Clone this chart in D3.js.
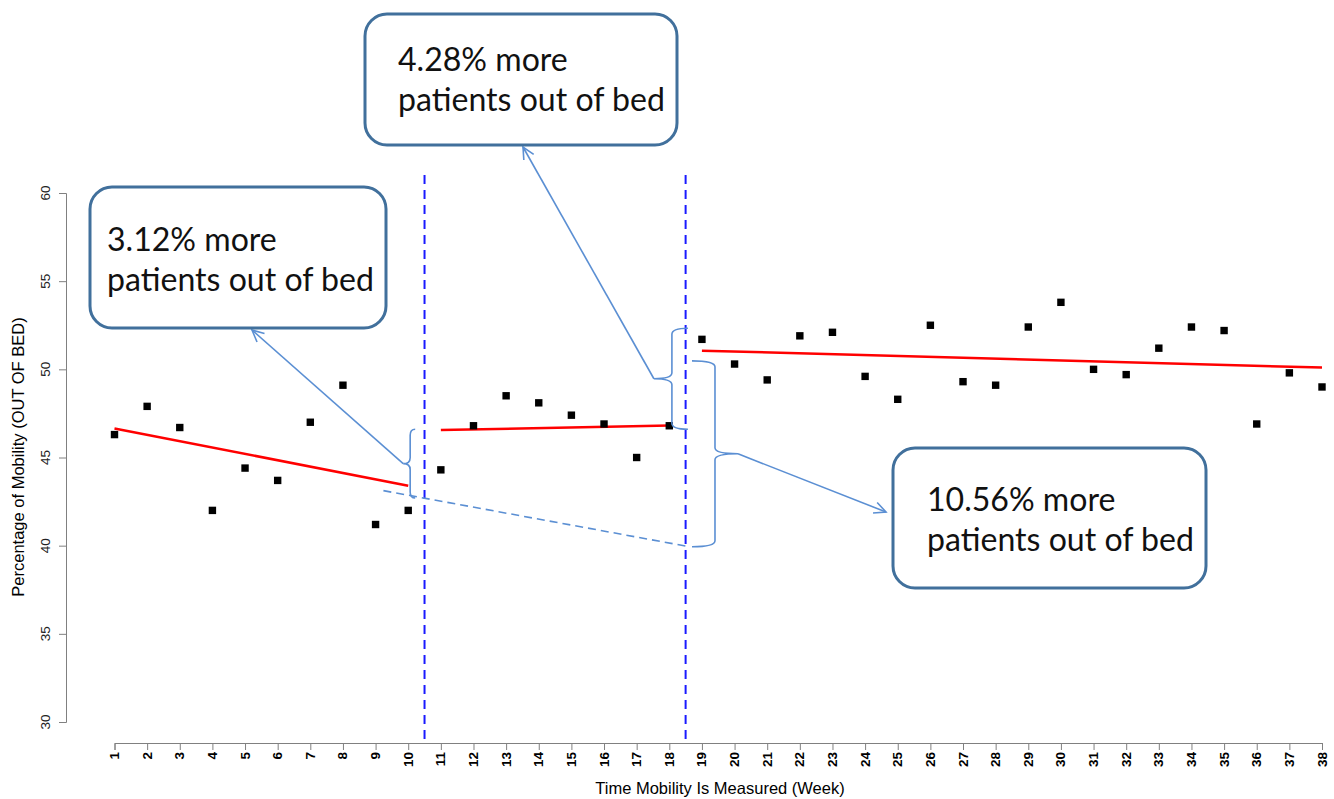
<!DOCTYPE html>
<html>
<head>
<meta charset="utf-8">
<script src="https://cdn.jsdelivr.net/npm/d3@7"></script>
<style>
  body { margin: 0; background: #fff; }
  svg { display: block; }
</style>
</head>
<body>
<svg id="chart" width="1334" height="799"></svg>
<script>
// Weekly share of patients out of bed.
const weeks = d3.range(1, 39);
const mobility = [
  46.3, 47.9, 46.7, 42.0, 44.4, 43.7, 47.0, 49.1, 41.2, 42.0,
  44.3, 46.8, 48.5, 48.1, 47.4, 46.9, 45.0, 46.8, 51.7, 50.3,
  49.4, 51.9, 52.1, 49.6, 48.3, 52.5, 49.3, 49.1, 52.4, 53.8,
  50.0, 49.7, 51.2, 52.4, 52.2, 46.9, 49.8, 49.0
];
const yTicks = [30, 35, 40, 45, 50, 55, 60];

// Fitted trend per phase: [startWeek, startValue, endWeek, endValue].
const trends = [
  [1, 46.65, 10, 43.4],
  [11, 46.56, 18, 46.81],
  [19, 51.06, 38, 50.1]
];
// Phase breaks.
const breaks = [10.5, 18.5];
// Extrapolated first-phase trend (dashed).
const projection = [[9.24, 43.12], [18.5, 39.98]];

// Braces: vertical at week, from value top to value bottom; hook / cusp offsets in px.
const braces = [
  { week: 10.06, top: 46.6, bottom: 42.7, hook: 5, cusp: -7 },
  { week: 18.08, top: 52.33, bottom: 46.6, hook: 16, cusp: -18 },
  { week: 19.4, top: 50.48, bottom: 39.94, hook: -23, cusp: 23 }
];
const boxes = [
  { x: 90, y: 187, w: 296, h: 141, tx: 107, ty: 251, lines: ["3.12% more", "patients out of bed"], tip: [252, 330] },
  { x: 365, y: 14, w: 312, h: 131, tx: 398, ty: 71, lines: ["4.28% more", "patients out of bed"], tip: [523, 147] },
  { x: 893, y: 448, w: 313, h: 140, tx: 927, ty: 511, lines: ["10.56% more", "patients out of bed"], tip: [886, 512] }
];

const svg = d3.select("#chart");
const x = d3.scaleLinear().domain([1, 38]).range([114.5, 1322]);
const y = d3.scaleLinear().domain([30, 60]).range([722, 193]);
const axisColor = "#808080";
const annColor = "#5b8fd3";
const axisFont = "'Liberation Sans', Arial, sans-serif";

// Y axis.
const yAxis = svg.append("g").attr("transform", "translate(66,0)")
  .call(d3.axisLeft(y).tickValues(yTicks).tickSize(7).tickFormat(""));
yAxis.select(".domain").attr("stroke", axisColor);
yAxis.selectAll(".tick line").attr("stroke", axisColor);
svg.append("g").selectAll("text").data(yTicks).join("text")
  .attr("transform", (d) => `translate(45,${y(d)}) rotate(-90)`)
  .attr("text-anchor", "middle")
  .attr("dominant-baseline", "central")
  .style("font", `13.5px ${axisFont}`)
  .style("fill", "#222")
  .text((d) => d);

// X axis.
const xAxis = svg.append("g").attr("transform", "translate(0,743)")
  .call(d3.axisBottom(x).tickValues(weeks).tickSize(7).tickFormat(""));
xAxis.select(".domain").attr("stroke", axisColor);
xAxis.selectAll(".tick line").attr("stroke", axisColor);
svg.append("g").selectAll("text").data(weeks).join("text")
  .attr("transform", (d) => `translate(${x(d)},752) rotate(-90)`)
  .attr("text-anchor", "end")
  .attr("dominant-baseline", "central")
  .style("font", `bold 13.5px ${axisFont}`)
  .text((d) => d);

// Axis titles.
svg.append("text")
  .attr("transform", "translate(18,457) rotate(-90)")
  .attr("text-anchor", "middle")
  .attr("dominant-baseline", "central")
  .style("font", `16.5px ${axisFont}`)
  .text("Percentage of Mobility (OUT OF BED)");
svg.append("text")
  .attr("x", 720).attr("y", 794)
  .attr("text-anchor", "middle")
  .style("font", `16.5px ${axisFont}`)
  .text("Time Mobility Is Measured (Week)");

// Phase break lines.
svg.append("g").selectAll("line").data(breaks).join("line")
  .attr("x1", (d) => x(d)).attr("x2", (d) => x(d))
  .attr("y1", 175).attr("y2", 743)
  .attr("stroke", "#1a1aff")
  .attr("stroke-width", 2)
  .attr("stroke-dasharray", "9,6");

// Dashed projection.
svg.append("path")
  .attr("d", d3.line().x((d) => x(d[0])).y((d) => y(d[1]))(projection))
  .attr("fill", "none")
  .attr("stroke", annColor)
  .attr("stroke-width", 1.6)
  .attr("stroke-dasharray", "8,5");

// Trend lines.
svg.append("g").selectAll("line").data(trends).join("line")
  .attr("x1", (d) => x(d[0])).attr("y1", (d) => y(d[1]))
  .attr("x2", (d) => x(d[2])).attr("y2", (d) => y(d[3]))
  .attr("stroke", "#ff0000")
  .attr("stroke-width", 2.5);

// Points.
svg.append("g").selectAll("rect").data(weeks).join("rect")
  .attr("x", (d) => x(d) - 3.7)
  .attr("y", (d, i) => y(mobility[i]) - 3.7)
  .attr("width", 7.4).attr("height", 7.4)
  .attr("fill", "#000");

// Braces.
function bracePath(b) {
  const xv = x(b.week), y1 = y(b.top), y2 = y(b.bottom), ym = (y1 + y2) / 2;
  const r = 6;
  return `M${xv + b.hook},${y1} Q${xv},${y1} ${xv},${y1 + r} L${xv},${ym - r} ` +
    `Q${xv},${ym} ${xv + b.cusp},${ym} Q${xv},${ym} ${xv},${ym + r} ` +
    `L${xv},${y2 - r} Q${xv},${y2} ${xv + b.hook},${y2}`;
}
svg.append("g").selectAll("path").data(braces).join("path")
  .attr("d", bracePath)
  .attr("fill", "none")
  .attr("stroke", annColor)
  .attr("stroke-width", 1.6);

// Arrows from brace cusp to boxes.
const arrowG = svg.append("g").attr("stroke", annColor).attr("stroke-width", 1.6).attr("fill", "none");
braces.forEach((b, i) => {
  const sx = x(b.week) + b.cusp, sy = (y(b.top) + y(b.bottom)) / 2;
  const [ex, ey] = boxes[i].tip;
  arrowG.append("line").attr("x1", sx).attr("y1", sy).attr("x2", ex).attr("y2", ey);
  const ang = Math.atan2(ey - sy, ex - sx);
  const len = 13, spread = 0.45;
  const p1 = [ex - len * Math.cos(ang - spread), ey - len * Math.sin(ang - spread)];
  const p2 = [ex - len * Math.cos(ang + spread), ey - len * Math.sin(ang + spread)];
  arrowG.append("path").attr("d", `M${p1[0]},${p1[1]} L${ex},${ey} L${p2[0]},${p2[1]}`);
});

// Callout boxes.
const boxG = svg.append("g").selectAll("g").data(boxes).join("g");
boxG.append("rect")
  .attr("x", (d) => d.x).attr("y", (d) => d.y)
  .attr("width", (d) => d.w).attr("height", (d) => d.h)
  .attr("rx", 22).attr("ry", 22)
  .attr("fill", "#fff")
  .attr("stroke", "#41709c")
  .attr("stroke-width", 3);
boxG.each(function (d) {
  const g = d3.select(this);
  d.lines.forEach((line, i) => {
    g.append("text")
      .attr("class", "box-text")
      .attr("x", d.tx)
      .attr("y", d.ty + i * 40)
      .style("font-family", "Lato, 'Open Sans', sans-serif")
      .style("font-size", "30px")
      .style("fill", "#111")
      .text(line);
  });
});
// Fit font so "patients out of bed" spans about 267px, like the original.
const sample = svg.selectAll(".box-text").filter((d, i, n) => n[i].textContent === "patients out of bed").node();
if (sample) {
  const fs = 30 * 267 / sample.getComputedTextLength();
  svg.selectAll(".box-text").style("font-size", `${fs}px`);
}
</script>
</body>
</html>
